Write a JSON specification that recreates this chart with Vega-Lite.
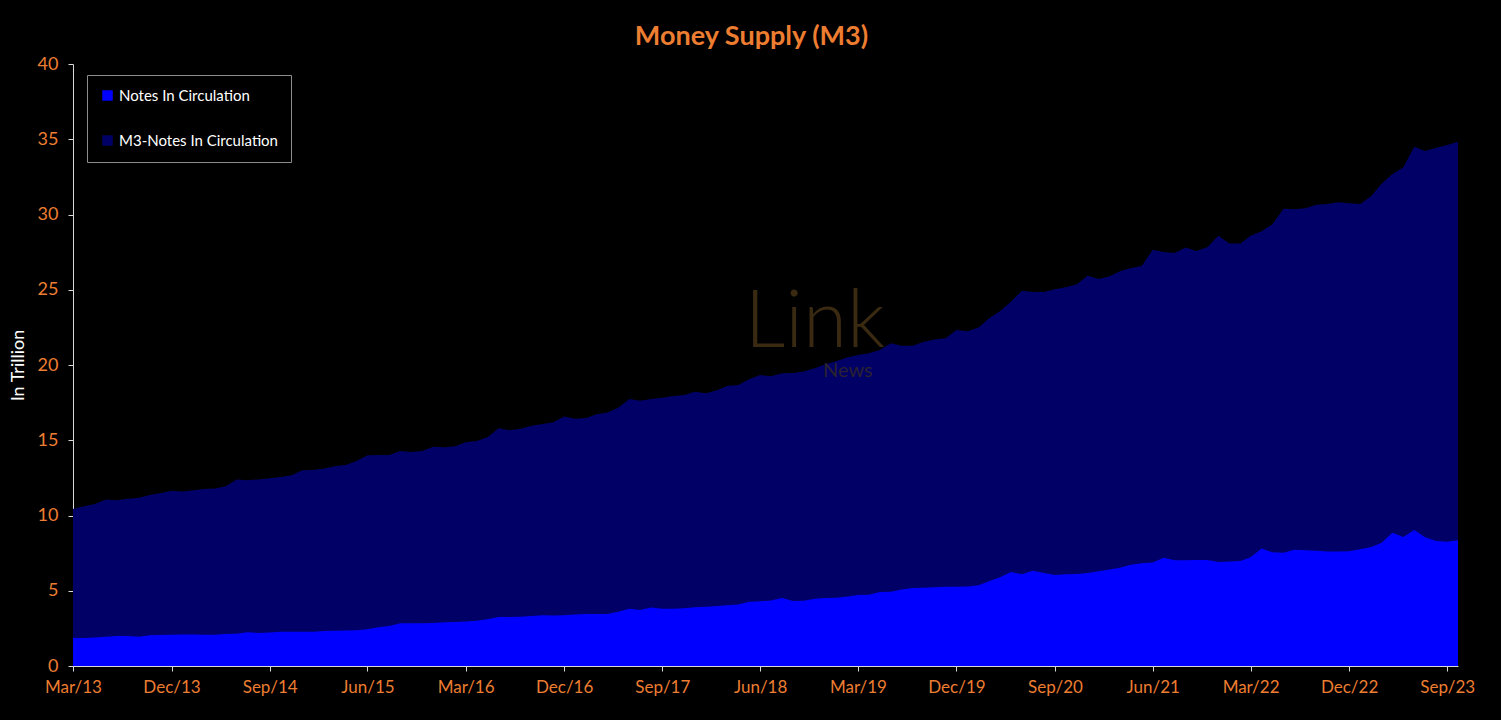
{
  "$schema": "https://vega.github.io/schema/vega-lite/v6.json",
  "autosize": "none",
  "width": 1385,
  "height": 602,
  "padding": {"left": 73, "top": 64, "right": 43, "bottom": 54},
  "background": "#000000",
  "config": {
    "view": {"stroke": null},
    "font": "Lato",
    "axis": {"grid": false, "domainColor": "#D9D9D9", "tickColor": "#D9D9D9", "tickSize": 5, "labelColor": "#ED7D31", "labelFont": "Lato", "titleFont": "Lato"}
  },
  "title": {"text": "Money Supply (M3)", "color": "#ED7D31", "fontSize": 27, "font": "Lato", "fontWeight": "bold", "anchor": "middle", "frame": "group", "offset": 4, "dx": -14},
  "data": {"values": [
    {"d":"2013-03-01","notes":1.86,"m3":10.43},{"d":"2013-04-01","notes":1.86,"m3":10.61},{"d":"2013-05-01","notes":1.90,"m3":10.77},{"d":"2013-06-01","notes":1.95,"m3":11.07},{"d":"2013-07-01","notes":1.99,"m3":11.01},{"d":"2013-08-01","notes":1.99,"m3":11.12},{"d":"2013-09-01","notes":1.95,"m3":11.18},{"d":"2013-10-01","notes":2.04,"m3":11.36},{"d":"2013-11-01","notes":2.06,"m3":11.50},{"d":"2013-12-01","notes":2.07,"m3":11.65},
    {"d":"2014-01-01","notes":2.10,"m3":11.60},{"d":"2014-02-01","notes":2.10,"m3":11.67},{"d":"2014-03-01","notes":2.08,"m3":11.76},{"d":"2014-04-01","notes":2.08,"m3":11.80},{"d":"2014-05-01","notes":2.13,"m3":11.94},{"d":"2014-06-01","notes":2.15,"m3":12.40},{"d":"2014-07-01","notes":2.24,"m3":12.34},{"d":"2014-08-01","notes":2.19,"m3":12.40},{"d":"2014-09-01","notes":2.22,"m3":12.47},{"d":"2014-10-01","notes":2.28,"m3":12.56},{"d":"2014-11-01","notes":2.27,"m3":12.67},{"d":"2014-12-01","notes":2.27,"m3":13.00},
    {"d":"2015-01-01","notes":2.28,"m3":13.02},{"d":"2015-02-01","notes":2.33,"m3":13.13},{"d":"2015-03-01","notes":2.35,"m3":13.27},{"d":"2015-04-01","notes":2.36,"m3":13.36},{"d":"2015-05-01","notes":2.38,"m3":13.62},{"d":"2015-06-01","notes":2.45,"m3":14.00},{"d":"2015-07-01","notes":2.58,"m3":14.02},{"d":"2015-08-01","notes":2.66,"m3":14.02},{"d":"2015-09-01","notes":2.84,"m3":14.29},{"d":"2015-10-01","notes":2.84,"m3":14.22},{"d":"2015-11-01","notes":2.84,"m3":14.29},{"d":"2015-12-01","notes":2.86,"m3":14.57},
    {"d":"2016-01-01","notes":2.90,"m3":14.53},{"d":"2016-02-01","notes":2.92,"m3":14.60},{"d":"2016-03-01","notes":2.95,"m3":14.86},{"d":"2016-04-01","notes":3.00,"m3":14.95},{"d":"2016-05-01","notes":3.10,"m3":15.20},{"d":"2016-06-01","notes":3.26,"m3":15.79},{"d":"2016-07-01","notes":3.26,"m3":15.67},{"d":"2016-08-01","notes":3.28,"m3":15.77},{"d":"2016-09-01","notes":3.33,"m3":15.97},{"d":"2016-10-01","notes":3.37,"m3":16.08},{"d":"2016-11-01","notes":3.36,"m3":16.19},{"d":"2016-12-01","notes":3.38,"m3":16.57},
    {"d":"2017-01-01","notes":3.43,"m3":16.43},{"d":"2017-02-01","notes":3.46,"m3":16.48},{"d":"2017-03-01","notes":3.46,"m3":16.72},{"d":"2017-04-01","notes":3.46,"m3":16.85},{"d":"2017-05-01","notes":3.61,"m3":17.16},{"d":"2017-06-01","notes":3.81,"m3":17.74},{"d":"2017-07-01","notes":3.72,"m3":17.63},{"d":"2017-08-01","notes":3.88,"m3":17.74},{"d":"2017-09-01","notes":3.81,"m3":17.83},{"d":"2017-10-01","notes":3.81,"m3":17.94},{"d":"2017-11-01","notes":3.83,"m3":18.00},{"d":"2017-12-01","notes":3.90,"m3":18.23},
    {"d":"2018-01-01","notes":3.94,"m3":18.12},{"d":"2018-02-01","notes":3.99,"m3":18.32},{"d":"2018-03-01","notes":4.03,"m3":18.60},{"d":"2018-04-01","notes":4.08,"m3":18.67},{"d":"2018-05-01","notes":4.27,"m3":19.05},{"d":"2018-06-01","notes":4.30,"m3":19.34},{"d":"2018-07-01","notes":4.36,"m3":19.25},{"d":"2018-08-01","notes":4.52,"m3":19.45},{"d":"2018-09-01","notes":4.32,"m3":19.47},{"d":"2018-10-01","notes":4.34,"m3":19.56},{"d":"2018-11-01","notes":4.47,"m3":19.78},{"d":"2018-12-01","notes":4.52,"m3":20.05},
    {"d":"2019-01-01","notes":4.54,"m3":20.27},{"d":"2019-02-01","notes":4.61,"m3":20.51},{"d":"2019-03-01","notes":4.72,"m3":20.66},{"d":"2019-04-01","notes":4.74,"m3":20.78},{"d":"2019-05-01","notes":4.92,"m3":21.00},{"d":"2019-06-01","notes":4.94,"m3":21.44},{"d":"2019-07-01","notes":5.09,"m3":21.28},{"d":"2019-08-01","notes":5.18,"m3":21.28},{"d":"2019-09-01","notes":5.20,"m3":21.55},{"d":"2019-10-01","notes":5.23,"m3":21.70},{"d":"2019-11-01","notes":5.27,"m3":21.77},{"d":"2019-12-01","notes":5.27,"m3":22.33},
    {"d":"2020-01-01","notes":5.29,"m3":22.25},{"d":"2020-02-01","notes":5.36,"m3":22.50},{"d":"2020-03-01","notes":5.63,"m3":23.10},{"d":"2020-04-01","notes":5.89,"m3":23.59},{"d":"2020-05-01","notes":6.24,"m3":24.21},{"d":"2020-06-01","notes":6.09,"m3":24.94},{"d":"2020-07-01","notes":6.33,"m3":24.85},{"d":"2020-08-01","notes":6.18,"m3":24.85},{"d":"2020-09-01","notes":6.05,"m3":25.03},{"d":"2020-10-01","notes":6.09,"m3":25.16},{"d":"2020-11-01","notes":6.11,"m3":25.36},{"d":"2020-12-01","notes":6.18,"m3":25.93},
    {"d":"2021-01-01","notes":6.29,"m3":25.71},{"d":"2021-02-01","notes":6.42,"m3":25.89},{"d":"2021-03-01","notes":6.53,"m3":26.23},{"d":"2021-04-01","notes":6.73,"m3":26.45},{"d":"2021-05-01","notes":6.82,"m3":26.58},{"d":"2021-06-01","notes":6.87,"m3":27.66},{"d":"2021-07-01","notes":7.20,"m3":27.51},{"d":"2021-08-01","notes":7.02,"m3":27.44},{"d":"2021-09-01","notes":7.02,"m3":27.80},{"d":"2021-10-01","notes":7.04,"m3":27.57},{"d":"2021-11-01","notes":7.04,"m3":27.84},{"d":"2021-12-01","notes":6.91,"m3":28.59},
    {"d":"2022-01-01","notes":6.95,"m3":28.08},{"d":"2022-02-01","notes":6.98,"m3":28.08},{"d":"2022-03-01","notes":7.22,"m3":28.59},{"d":"2022-04-01","notes":7.80,"m3":28.88},{"d":"2022-05-01","notes":7.55,"m3":29.35},{"d":"2022-06-01","notes":7.53,"m3":30.39},{"d":"2022-07-01","notes":7.73,"m3":30.35},{"d":"2022-08-01","notes":7.69,"m3":30.41},{"d":"2022-09-01","notes":7.66,"m3":30.65},{"d":"2022-10-01","notes":7.60,"m3":30.70},{"d":"2022-11-01","notes":7.60,"m3":30.81},{"d":"2022-12-01","notes":7.62,"m3":30.74},
    {"d":"2023-01-01","notes":7.75,"m3":30.70},{"d":"2023-02-01","notes":7.91,"m3":31.23},{"d":"2023-03-01","notes":8.17,"m3":32.03},{"d":"2023-04-01","notes":8.86,"m3":32.69},{"d":"2023-05-01","notes":8.57,"m3":33.13},{"d":"2023-06-01","notes":9.04,"m3":34.50},{"d":"2023-07-01","notes":8.55,"m3":34.22},{"d":"2023-08-01","notes":8.31,"m3":34.44},{"d":"2023-09-01","notes":8.26,"m3":34.62},{"d":"2023-10-01","notes":8.35,"m3":34.84}
  ]},
  "encoding": {
    "x": {
      "field": "d", "type": "temporal",
      "scale": {"type": "utc", "domain": [{"year": 2013, "month": 3, "date": 1, "utc": true}, {"year": 2023, "month": 10, "date": 1, "utc": true}]},
      "axis": {
        "title": null, "labelExpr": "utcFormat(datum.value, '%b/%y')", "labelFontSize": 17, "labelPadding": 8, "labelFlush": false, "labelOverlap": false,
        "values": [
          {"year": 2013, "month": 3, "date": 1, "utc": true}, {"year": 2013, "month": 12, "date": 1, "utc": true},
          {"year": 2014, "month": 9, "date": 1, "utc": true}, {"year": 2015, "month": 6, "date": 1, "utc": true},
          {"year": 2016, "month": 3, "date": 1, "utc": true}, {"year": 2016, "month": 12, "date": 1, "utc": true},
          {"year": 2017, "month": 9, "date": 1, "utc": true}, {"year": 2018, "month": 6, "date": 1, "utc": true},
          {"year": 2019, "month": 3, "date": 1, "utc": true}, {"year": 2019, "month": 12, "date": 1, "utc": true},
          {"year": 2020, "month": 9, "date": 1, "utc": true}, {"year": 2021, "month": 6, "date": 1, "utc": true},
          {"year": 2022, "month": 3, "date": 1, "utc": true}, {"year": 2022, "month": 12, "date": 1, "utc": true},
          {"year": 2023, "month": 9, "date": 1, "utc": true}
        ]
      }
    }
  },
  "layer": [
    {
      "mark": {"type": "area", "interpolate": "linear"},
      "encoding": {
        "y": {"field": "m3", "type": "quantitative", "scale": {"domain": [0, 40], "nice": false},
          "axis": {"title": "In Trillion", "titleColor": "#FFFFFF", "titleFontSize": 18, "titleFontWeight": "normal", "titlePadding": 10, "values": [0, 5, 10, 15, 20, 25, 30, 35, 40], "labelFontSize": 18, "labelPadding": 10}},
        "color": {"datum": "M3-Notes In Circulation", "type": "nominal",
          "scale": {"domain": ["Notes In Circulation", "M3-Notes In Circulation"], "range": ["#0000FF", "#000066"]},
          "legend": {"title": null, "orient": "none", "legendX": 14, "legendY": 11, "symbolType": "square", "symbolSize": 110, "symbolStrokeWidth": 0, "labelColor": "#FFFFFF", "labelFontSize": 15, "labelFont": "Lato", "labelOffset": 4, "padding": 13, "rowPadding": 29, "strokeColor": "#8C8C8C", "fillColor": "#000000", "symbolOpacity": 1}
        }
      }
    },
    {
      "mark": {"type": "area", "interpolate": "linear"},
      "encoding": {
        "y": {"field": "notes", "type": "quantitative"},
        "color": {"datum": "Notes In Circulation", "type": "nominal"}
      }
    },
    {
      "data": {"values": [{"t": "Link", "d": "2018-11-01", "v": 21.2}]},
      "mark": {"type": "text", "fontSize": 80, "font": "Lato", "fontWeight": 300, "color": "#3A2A12", "align": "center", "baseline": "alphabetic"},
      "encoding": {"text": {"field": "t"}, "y": {"field": "v", "type": "quantitative"}}
    },
    {
      "data": {"values": [{"t": "News", "d": "2019-02-01", "v": 19.6}]},
      "mark": {"type": "text", "fontSize": 20, "font": "Lato", "color": "#2A2230", "align": "center", "baseline": "middle"},
      "encoding": {"text": {"field": "t"}, "y": {"field": "v", "type": "quantitative"}}
    }
  ]
}
